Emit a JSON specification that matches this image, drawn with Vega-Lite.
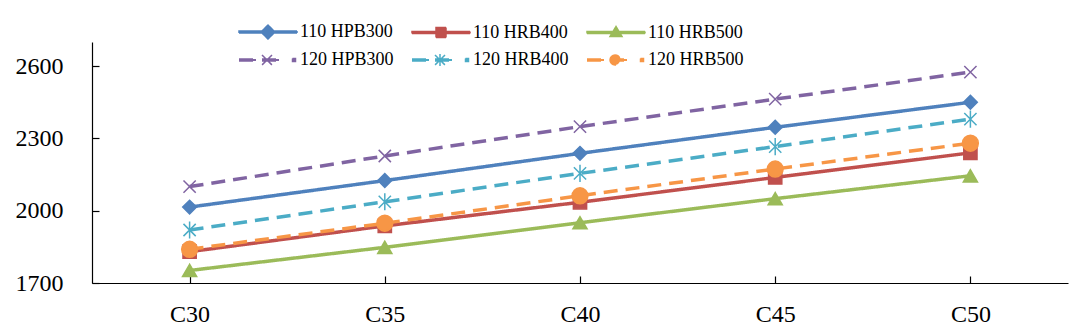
{
  "$schema": "https://vega.github.io/schema/vega-lite/v6.json",
  "width": 976,
  "height": 241,
  "autosize": {"type": "none"},
  "padding": {"left": 92, "top": 42, "right": 12, "bottom": 49},
  "background": "white",
  "config": {
    "view": {"stroke": null},
    "font": "Liberation Serif, Times New Roman, serif",
    "axis": {"labelFont": "Liberation Serif, Times New Roman, serif", "labelColor": "black", "domainColor": "black", "tickColor": "black", "domainWidth": 1.2, "tickWidth": 1.2, "grid": false, "title": null},
    "legend": {"labelFont": "Liberation Serif, Times New Roman, serif", "labelColor": "black", "labelFontSize": 18, "padding": 0}
  },
  "data": {
    "values": [
      {"grade": "C30", "series": "110 HPB300", "value": 2015},
      {"grade": "C35", "series": "110 HPB300", "value": 2125},
      {"grade": "C40", "series": "110 HPB300", "value": 2238},
      {"grade": "C45", "series": "110 HPB300", "value": 2346},
      {"grade": "C50", "series": "110 HPB300", "value": 2450},
      {"grade": "C30", "series": "110 HRB400", "value": 1830},
      {"grade": "C35", "series": "110 HRB400", "value": 1937},
      {"grade": "C40", "series": "110 HRB400", "value": 2035},
      {"grade": "C45", "series": "110 HRB400", "value": 2138},
      {"grade": "C50", "series": "110 HRB400", "value": 2240},
      {"grade": "C30", "series": "110 HRB500", "value": 1752},
      {"grade": "C35", "series": "110 HRB500", "value": 1848},
      {"grade": "C40", "series": "110 HRB500", "value": 1950},
      {"grade": "C45", "series": "110 HRB500", "value": 2050},
      {"grade": "C50", "series": "110 HRB500", "value": 2145},
      {"grade": "C30", "series": "120 HPB300", "value": 2100},
      {"grade": "C35", "series": "120 HPB300", "value": 2227},
      {"grade": "C40", "series": "120 HPB300", "value": 2349},
      {"grade": "C45", "series": "120 HPB300", "value": 2463},
      {"grade": "C50", "series": "120 HPB300", "value": 2575},
      {"grade": "C30", "series": "120 HRB400", "value": 1920},
      {"grade": "C35", "series": "120 HRB400", "value": 2037},
      {"grade": "C40", "series": "120 HRB400", "value": 2155},
      {"grade": "C45", "series": "120 HRB400", "value": 2266},
      {"grade": "C50", "series": "120 HRB400", "value": 2380},
      {"grade": "C30", "series": "120 HRB500", "value": 1840},
      {"grade": "C35", "series": "120 HRB500", "value": 1948},
      {"grade": "C40", "series": "120 HRB500", "value": 2062},
      {"grade": "C45", "series": "120 HRB500", "value": 2173},
      {"grade": "C50", "series": "120 HRB500", "value": 2280}
    ]
  },
  "encoding": {
    "x": {
      "field": "grade", "type": "ordinal",
      "scale": {"type": "point", "padding": 0.5},
      "axis": {"labelAngle": 0, "labelFont": "Liberation Serif, Times New Roman, serif", "labelFontSize": 24, "tickSize": -7, "labelPadding": 26}
    },
    "y": {
      "field": "value", "type": "quantitative",
      "scale": {"domain": [1700, 2700], "nice": false, "zero": false},
      "axis": {"values": [1700, 2000, 2300, 2600], "format": "d", "labelFont": "Liberation Serif, Times New Roman, serif", "labelFontSize": 24, "tickSize": -7, "labelPadding": 36}
    }
  },
  "layer": [
    {
      "mark": {"type": "line", "strokeWidth": 3.5},
      "encoding": {
        "color": {
          "field": "series", "type": "nominal",
          "scale": {
            "domain": ["110 HPB300", "110 HRB400", "110 HRB500", "120 HPB300", "120 HRB400", "120 HRB500"],
            "range": ["#4F81BD", "#C0504D", "#9BBB59", "#8064A2", "#4BACC6", "#F79646"]
          },
          "legend": {
            "orient": "none", "legendX": 143, "legendY": -19, "columns": 3, "direction": "horizontal",
            "title": null, "symbolSize": 100, "labelOffset": 47, "labelFontSize": 18, "columnPadding": 14, "rowPadding": 9,
            "encode": {
              "symbols": {
                "update": {
                  "shape": {"signal": "datum.value === '110 HPB300' ? 'M-1,-0.2L10.6,-0.2L10.6,0.2L-1,0.2Z M4.8,-1.4L6.2,0L4.8,1.4L3.4,0Z' : datum.value === '110 HRB400' ? 'M-1,-0.2L10.6,-0.2L10.6,0.2L-1,0.2Z M3.8,-1L5.8,-1L5.8,1L3.8,1Z' : datum.value === '110 HRB500' ? 'M-1,-0.2L10.6,-0.2L10.6,0.2L-1,0.2Z M4.8,-1.2L6,0.8L3.6,0.8Z' : datum.value === '120 HPB300' ? 'M-1,-0.2L2.4,-0.2L2.4,0.2L-1,0.2Z M3.6,-0.2L7,-0.2L7,0.2L3.6,0.2Z M9.7,-0.3L10.3,-0.3L10.3,0.3L9.7,0.3Z M3.6,-1L5.6,1M5.6,-1L3.6,1' : datum.value === '120 HRB400' ? 'M-1,-0.2L2.4,-0.2L2.4,0.2L-1,0.2Z M3.6,-0.2L7,-0.2L7,0.2L3.6,0.2Z M9.7,-0.3L10.3,-0.3L10.3,0.3L9.7,0.3Z M3.6,-1L5.6,1M5.6,-1L3.6,1M4.6,-1.2L4.6,1.2' : 'M-1,-0.2L2.4,-0.2L2.4,0.2L-1,0.2Z M3.6,-0.2L7,-0.2L7,0.2L3.6,0.2Z M9.7,-0.3L10.3,-0.3L10.3,0.3L9.7,0.3Z M3.6,0A1,1 0 1,1 5.6,0A1,1 0 1,1 3.6,0Z'"},
                  "fill": {"scale": "color", "field": "value"},
                  "stroke": {"scale": "color", "field": "value"},
                  "strokeWidth": {"value": 1.5},
                  "strokeDash": {"value": []},
                  "size": {"value": 100},
                  "opacity": {"value": 1}
                }
              }
            }
          }
        },
        "strokeDash": {
          "field": "series", "type": "nominal", "legend": null,
          "scale": {
            "domain": ["110 HPB300", "110 HRB400", "110 HRB500", "120 HPB300", "120 HRB400", "120 HRB500"],
            "range": [[1, 0], [1, 0], [1, 0], [14, 8], [14, 8], [14, 8]]
          }
        }
      }
    },
    {
      "transform": [{"filter": "datum.series === '110 HPB300'"}],
      "mark": {"type": "point", "shape": "diamond", "size": 190, "filled": true, "opacity": 1, "fill": "#4F81BD", "stroke": "#4F81BD", "strokeWidth": 1.5}
    },
    {
      "transform": [{"filter": "datum.series === '110 HRB400'"}],
      "mark": {"type": "point", "shape": "square", "size": 175, "filled": true, "opacity": 1, "fill": "#C0504D", "stroke": "#C0504D", "strokeWidth": 1.5}
    },
    {
      "transform": [{"filter": "datum.series === '110 HRB500'"}],
      "mark": {"type": "point", "shape": "triangle-up", "size": 200, "filled": true, "opacity": 1, "fill": "#9BBB59", "stroke": "#9BBB59", "strokeWidth": 1.5}
    },
    {
      "transform": [{"filter": "datum.series === '120 HPB300'"}],
      "mark": {"type": "point", "shape": "M-1,-1L1,1M1,-1L-1,1", "size": 150, "filled": false, "opacity": 1, "stroke": "#8064A2", "strokeWidth": 1.5}
    },
    {
      "transform": [{"filter": "datum.series === '120 HRB400'"}],
      "mark": {"type": "point", "shape": "M-1,-1L1,1M1,-1L-1,1M0,-1.4L0,1.4", "size": 150, "filled": false, "opacity": 1, "stroke": "#4BACC6", "strokeWidth": 1.5}
    },
    {
      "transform": [{"filter": "datum.series === '120 HRB500'"}],
      "mark": {"type": "point", "shape": "circle", "size": 250, "filled": true, "opacity": 1, "fill": "#F79646", "stroke": "#F79646", "strokeWidth": 1.5}
    }
  ]
}
